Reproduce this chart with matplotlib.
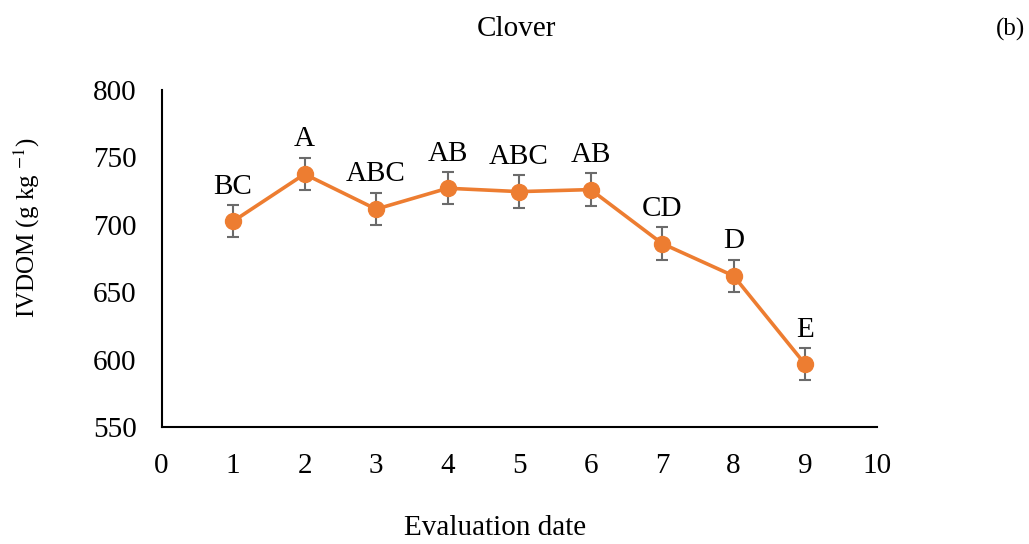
import matplotlib
matplotlib.use('Agg')
import matplotlib.pyplot as plt
import numpy as np

plt.rcParams['font.family'] = ['Liberation Serif', 'DejaVu Serif']
plt.rcParams['mathtext.fontset'] = 'stix'

# 数据
dates = [1, 2, 3, 4, 5, 6, 7, 8, 9]
ivdom = [702.5, 737.5, 711.5, 727.0, 724.5, 726.0, 686.0, 662.0, 596.5]
err = [12, 12, 12, 12, 12, 12, 12, 12, 12]
letters = ['BC', 'A', 'ABC', 'AB', 'ABC', 'AB', 'CD', 'D', 'E']

fig = plt.figure(figsize=(10.29, 5.44), dpi=100)
ax = fig.add_axes([0.157, 0.215, 0.695, 0.62])

ax.errorbar(dates, ivdom, yerr=err, fmt='none', ecolor='#6b6b6b',
            elinewidth=1.5, capsize=4, capthick=1.5, zorder=2)
ax.plot(dates, ivdom, color='#ED7D31', lw=2.6, marker='o', ms=11.5, zorder=3)

for x, y, e, t in zip(dates, ivdom, err, letters):
    ax.annotate(t, (x, y + e), xytext=(0, 4), textcoords='offset points',
                ha='center', va='bottom', fontsize=21)

ax.set_xlim(0, 10)
ax.set_ylim(550, 800)
ax.set_xticks(range(0, 11))
ax.set_yticks(range(550, 801, 50))
ax.tick_params(length=0, labelsize=21)
ax.tick_params(axis='x', pad=19)
ax.tick_params(axis='y', pad=18)
for s in ['top', 'right']:
    ax.spines[s].set_visible(False)
for s in ['left', 'bottom']:
    ax.spines[s].set_linewidth(1.5)

fig.text(0.502, 0.947, 'Clover', ha='center', va='center', fontsize=21)
fig.text(0.982, 0.945, '(b)', ha='center', va='center', fontsize=18)
fig.text(0.481, 0.03, 'Evaluation date', ha='center', va='center', fontsize=21)
fig.text(0.026, 0.581, 'IVDOM (g kg $^{-1}$)', ha='center', va='center',
         rotation=90, fontsize=18)

fig.savefig('out.png', dpi=100)
